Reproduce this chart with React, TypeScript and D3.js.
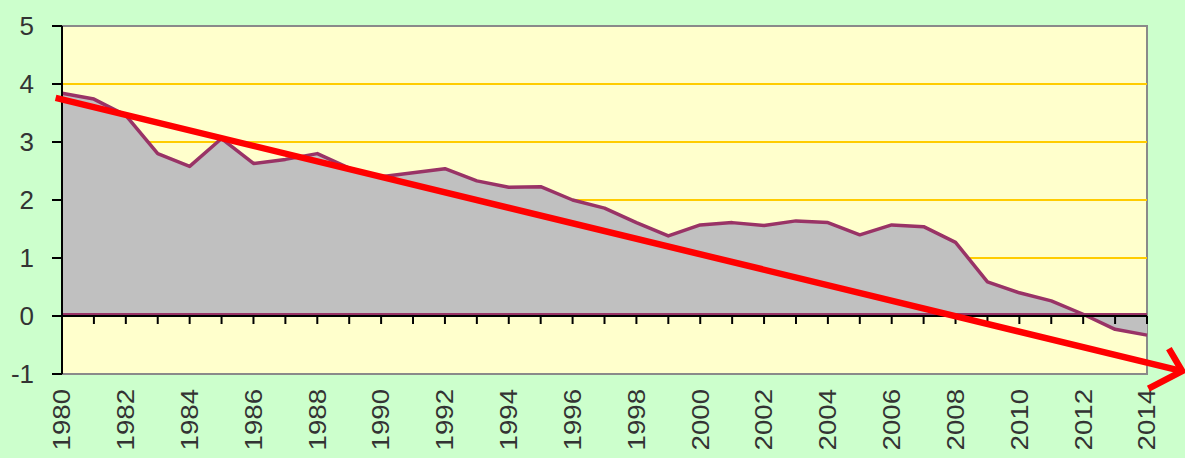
import React from "react";
import * as d3 from "d3";

const years = [1980,1981,1982,1983,1984,1985,1986,1987,1988,1989,1990,1991,1992,1993,1994,1995,1996,1997,1998,1999,2000,2001,2002,2003,2004,2005,2006,2007,2008,2009,2010,2011,2012,2013,2014];
const values = [3.84,3.74,3.46,2.80,2.58,3.06,2.63,2.70,2.80,2.55,2.40,2.47,2.54,2.33,2.22,2.23,2.00,1.86,1.61,1.38,1.57,1.61,1.56,1.64,1.61,1.40,1.57,1.54,1.27,0.59,0.40,0.26,0.03,-0.23,-0.33];
const yTicks = [-1,0,1,2,3,4,5];
const gridValues = [1,2,3,4];
const xTickLabels = [1980,1982,1984,1986,1988,1990,1992,1994,1996,1998,2000,2002,2004,2006,2008,2010,2012,2014];
// trend arrow endpoints in data coordinates [year, value]
const trendStart: [number, number] = [1979.8, 3.76];
const trendEnd: [number, number] = [2015.1, -0.95];

const W = 1185, H = 458;
const L = 62, R = 1147, T = 26, B = 374;

export default function App() {
  const x = d3.scaleLinear().domain([1980, 2014]).range([L, R]);
  const y = d3.scaleLinear().domain([-1, 5]).range([B, T]);
  const pts = years.map((yr, i) => [yr, values[i]] as [number, number]);
  const area = d3.area<[number, number]>().x(d => x(d[0])).y0(y(0)).y1(d => y(d[1]));
  const line = d3.line<[number, number]>().x(d => x(d[0])).y(d => y(d[1]));

  const sx = x(trendStart[0]), sy = y(trendStart[1]);
  const ex = x(trendEnd[0]), ey = y(trendEnd[1]);
  const ang = Math.atan2(ey - sy, ex - sx);
  const back = ang + Math.PI;
  const a1 = back + 0.8, a2 = back - 0.72;
  const arm1 = 26, arm2 = 38;
  const p1 = [ex + arm1 * Math.cos(a1), ey + arm1 * Math.sin(a1)];
  const p2 = [ex + arm2 * Math.cos(a2), ey + arm2 * Math.sin(a2)];

  const font = "'Liberation Sans', Arial, sans-serif";
  return (
    <svg width={W} height={H} style={{ position: "fixed", left: 0, top: 0, display: "block" }}>
      <rect x={0} y={0} width={W} height={H} fill="#CCFFCC" />
      <rect x={L} y={T} width={R - L} height={B - T} fill="#FFFFCC" stroke="#8a8a8a" strokeWidth={2} />
      {gridValues.map(v => (
        <line key={v} x1={L} x2={R} y1={y(v)} y2={y(v)} stroke="#FFCC00" strokeWidth={2} />
      ))}
      <path d={area(pts) || ""} fill="#C0C0C0" />
      <path d={line(pts) || ""} fill="none" stroke="#993366" strokeWidth={3.5} strokeLinejoin="round" />
      <line x1={L} x2={R} y1={y(0) - 2} y2={y(0) - 2} stroke="#993366" strokeWidth={2} />
      {/* zero axis */}
      <line x1={L} x2={R} y1={y(0)} y2={y(0)} stroke="#000" strokeWidth={2} />
      {years.slice(1).map(yr => (
        <line key={yr} x1={x(yr)} x2={x(yr)} y1={y(0)} y2={y(0) + 8} stroke="#000" strokeWidth={2} />
      ))}
      {/* left axis */}
      <line x1={L} x2={L} y1={T} y2={B} stroke="#000" strokeWidth={2} />
      {yTicks.map(v => (
        <g key={v}>
          <line x1={L - 10} x2={L} y1={y(v)} y2={y(v)} stroke="#000" strokeWidth={2} />
          <text x={34} y={y(v)} textAnchor="end" dominantBaseline="central" fontFamily={font}
            fontSize={26} fill="#333">{v}</text>
        </g>
      ))}
      {xTickLabels.map(yr => (
        <text key={yr} transform={`translate(${x(yr)},389) rotate(-90) scale(1.15,1)`} textAnchor="end"
          dominantBaseline="central" fontFamily={font} fontSize={24} fill="#333">{yr}</text>
      ))}
      {/* trend arrow */}
      <line x1={sx} y1={sy} x2={ex} y2={ey} stroke="#FF0000" strokeWidth={6.5} />
      <polyline points={`${p1[0]},${p1[1]} ${ex},${ey} ${p2[0]},${p2[1]}`} fill="none" stroke="#FF0000"
        strokeWidth={6.5} strokeLinejoin="miter" />
    </svg>
  );
}
